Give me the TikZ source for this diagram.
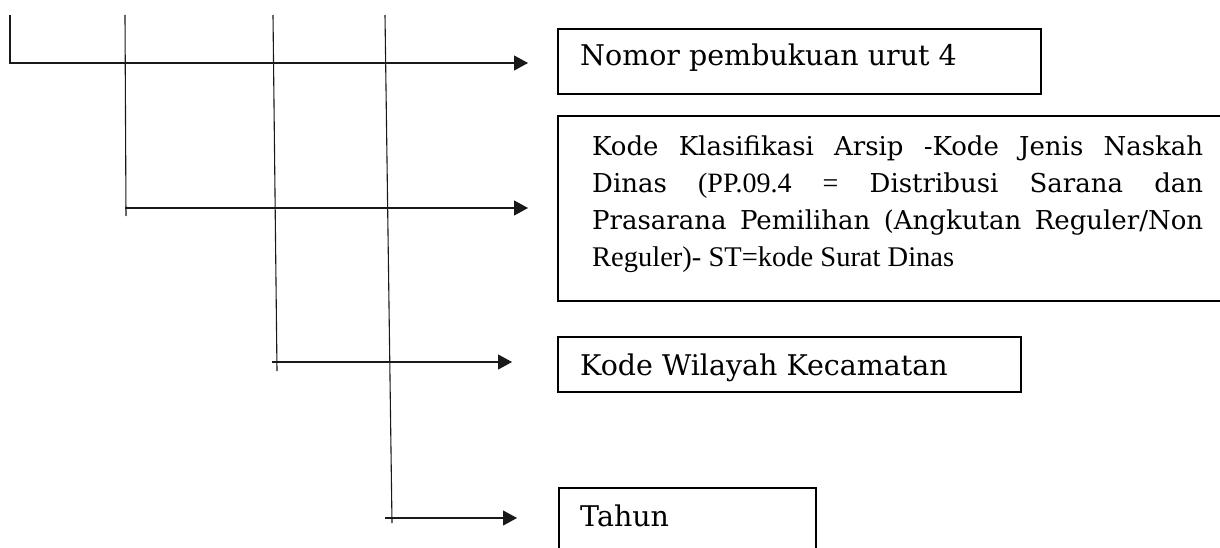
\documentclass[tikz,border=0pt]{standalone}
\usepackage{fontspec}
\setmainfont{DejaVu Serif}
\newfontfamily\camb{Liberation Serif}
\usetikzlibrary{arrows.meta}
\begin{document}
\begin{tikzpicture}[x=1pt,y=-1pt,
  conn/.style={line width=1.1pt, draw=black!90},
  arr/.style={conn,-{Triangle[length=14pt,width=15pt]}},
  frame/.style={draw=black, line width=1.6pt, anchor=north west, inner sep=0pt},
  txt/.style={anchor=base west, inner sep=0pt, font=\fontsize{28.5}{32}\selectfont},
]
\clip (0,0) rectangle (1220,548);
% vertical leads
\coordinate (v1t) at (10,15);
\coordinate (v2t) at (125,15);
\coordinate (v2b) at (126,216);
\coordinate (v3t) at (273,15);
\coordinate (v3b) at (277,371);
\coordinate (v4t) at (385,15);
\coordinate (v4b) at (392,523);
% arrow starts and ends
\coordinate (h1e) at (528,63);
\coordinate (h2s) at (125,208);
\coordinate (h2e) at (528,208);
\coordinate (h3s) at (272,362);
\coordinate (h3e) at (512,362);
\coordinate (h4s) at (385,518);
\coordinate (h4e) at (517,518);

\draw[arr] (v1t) |- (h1e);
\draw[conn] (v2t) -- (v2b);
\draw[conn] (v3t) -- (v3b);
\draw[conn] (v4t) -- (v4b);
\draw[arr] (h2s) -- (h2e);
\draw[arr] (h3s) -- (h3e);
\draw[arr] (h4s) -- (h4e);

% boxes
\node[frame, minimum width=483pt, minimum height=65pt] (b1) at (557,28) {};
\node[txt] (t1) at (580,66) {Nomor pembukuan urut 4};

\node[frame, minimum width=667pt, minimum height=185pt] (b2) at (557,115) {};
\node[anchor=base west, inner sep=0pt] (t2) at (592,156) {\parbox[t]{614pt}{\fontsize{26}{37}\selectfont
\makebox[611pt][s]{Kode Klasifikasi Arsip -Kode Jenis Naskah}\\
\makebox[611pt][s]{Dinas {\camb\fontsize{28}{37}\selectfont (PP.09.4} {\camb\fontsize{28}{37}\selectfont =} Distribusi Sarana dan}\\
\makebox[611pt][s]{Prasarana Pemilihan (Angkutan Reguler/Non}\\
{\camb\fontsize{28.5}{37}\selectfont Reguler)- ST=kode Surat Dinas}}};

\node[frame, minimum width=463pt, minimum height=55pt] (b3) at (557,336) {};
\node[txt] (t3) at (580,375) {Kode Wilayah Kecamatan};

\node[frame, minimum width=257pt, minimum height=100pt] (b4) at (558,487) {};
\node[txt] (t4) at (580,526) {Tahun};
\end{tikzpicture}
\end{document}
